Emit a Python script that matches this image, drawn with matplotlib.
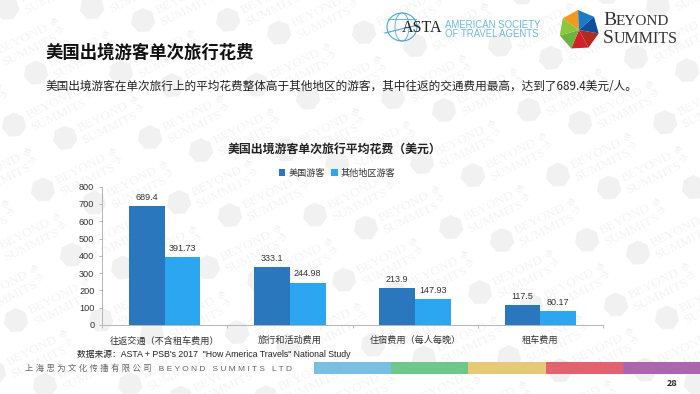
import numpy as np
import matplotlib
matplotlib.use('Agg')
import matplotlib.pyplot as plt
from matplotlib.patches import Rectangle, Polygon, Ellipse

plt.rcParams['font.family'] = ['Noto Sans CJK SC', 'DejaVu Sans']
LATIN_CJK = ['Liberation Sans', 'Noto Sans CJK SC']

categories = ['往返交通（不含租车费用）', '旅行和活动费用', '住宿费用（每人每晚）', '租车费用']
us_values = [689.4, 333.1, 213.9, 117.5]
other_values = [391.73, 244.98, 147.93, 80.17]
us_labels = ['689.4', '333.1', '213.9', '117.5']
other_labels = ['391.73', '244.98', '147.93', '80.17']
y_ticks = [0, 100, 200, 300, 400, 500, 600, 700, 800]
series_names = ['美国游客', '其他地区游客']

W, H = 700, 394
fig = plt.figure(figsize=(7, 3.94), dpi=100, facecolor='white')

bg = fig.add_axes([0, 0, 1, 1], zorder=0)
bg.set_xlim(0, W); bg.set_ylim(H, 0); bg.axis('off')


def hexagon(cx, cy, r):
    a = np.deg2rad(np.arange(7) * 360 / 7 + 10)
    return np.c_[cx + r * np.cos(a), cy + r * np.sin(a)]


def watermark(x, y):
    bg.add_patch(Polygon(hexagon(x, y, 12.5), color='#f1f1f1', lw=0, zorder=1))
    bg.text(x + 13, y - 9, 'BEYOND', fontsize=9.5, family='Liberation Serif', color='#f4f4f4',
            rotation=26, rotation_mode='anchor', ha='left', va='center', zorder=1)
    bg.text(x + 18, y + 3, 'SUMMITS', fontsize=9.5, family='Liberation Serif', color='#f4f4f4',
            rotation=26, rotation_mode='anchor', ha='left', va='center', zorder=1)
    bg.text(x + 68, y - 38, '思', fontsize=5.5, color='#f1f1f1', ha='center', va='center',
            rotation=-20, zorder=1)
    bg.text(x + 73, y - 30, '为', fontsize=5.5, color='#f1f1f1', ha='center', va='center',
            rotation=-20, zorder=1)


for m in range(-3, 6):
    for n in range(-2, 7):
        ax0 = 14 + n * 136 + m * 29
        ay0 = 125 + n * 12.5 + m * 65
        for dx, dy in [(0, 0), (51, 13)]:
            px, py = ax0 + dx, ay0 + dy
            if -90 < px < W + 15 and -15 < py < H + 50:
                watermark(px, py)

# header
bg.text(46, 53, '美国出境游客单次旅行花费', fontsize=12.5, fontweight='bold', color='#111111', va='center', zorder=4)
bg.text(46, 86, '美国出境游客在单次旅行上的平均花费整体高于其他地区的游客，其中往返的交通费用最高，达到了689.4美元/人。',
        fontsize=8.4, color='#222222', va='center', zorder=4)
bg.text(335, 149, '美国出境游客单次旅行平均花费（美元）', fontsize=8.6, fontweight='bold',
        color='#222222', ha='center', va='center', zorder=4)

# ASTA logo
bg.add_patch(Ellipse((402, 27), 30, 28, fill=False, ec='#4aa8d8', lw=0.8, zorder=2))
bg.add_patch(Ellipse((402, 27), 14, 28, fill=False, ec='#4aa8d8', lw=0.6, zorder=2))
bg.plot([385, 418], [33, 25], color='#4aa8d8', lw=0.8, zorder=2)
bg.plot([388, 416], [19, 19], color='#4aa8d8', lw=0.6, zorder=2)
bg.text(422, 28, 'ASTA', fontsize=11.5, family='Liberation Serif', color='#222222', ha='center', va='center', zorder=3)
bg.text(445, 24.5, 'AMERICAN SOCIETY', fontsize=6.9, color='#6db9de', family='Liberation Sans', va='center', zorder=3)
bg.text(445, 34, 'OF TRAVEL AGENTS', fontsize=6.9, color='#6db9de', family='Liberation Sans', va='center', zorder=3)

# Beyond Summits logo
cx, cy = 579, 30
pts = hexagon(cx, cy, 20)
cols = ['#b52a20', '#d3202a', '#6cb33f', '#8cc63f', '#f39a1e', '#1a7cc4', '#0d4f9e']
for i in range(7):
    bg.add_patch(Polygon([[cx, cy], pts[i], pts[(i + 1) % 7]], color=cols[i], lw=0, zorder=3))
bg.text(603, 25, 'B', fontsize=14, family='Liberation Serif', color='#333333', va='baseline', zorder=3)
bg.text(616, 25, 'EYOND', fontsize=11, family='Liberation Serif', color='#333333', va='baseline', zorder=3)
bg.text(603, 43, 'S', fontsize=14, family='Liberation Serif', color='#333333', va='baseline', zorder=3)
bg.text(614, 43, 'UMMITS', fontsize=11.5, family='Liberation Serif', color='#333333', va='baseline', zorder=3)

# footer
bg.text(77, 354, '数据来源：ASTA + PSB\'s 2017  "How America Travels" National Study', fontsize=6.3,
        family=LATIN_CJK, color='#222222', va='center', zorder=4)
bg.text(25, 369, '上 海 思 为 文 化 传 播 有 限 公 司   B E Y O N D   S U M M I T S   L T D', fontsize=6.0,
        family=LATIN_CJK, color='#666666', va='center', zorder=4)
edges = [314, 391, 468, 545.5, 623, 700]
band = ['#79bfe2', '#70c78a', '#e7c978', '#e2636e', '#ab66b0']
for a, b, c in zip(edges[:-1], edges[1:], band):
    bg.add_patch(Rectangle((a, 362), b - a, 12, color=c, lw=0, zorder=2))
bg.text(672, 384, '28', fontsize=6.5, fontweight='bold', color='#222222', ha='center', va='center', zorder=4)

# chart
L, R, T, B = 102, 603, 186.7, 325
ax = fig.add_axes([L / W, 1 - B / H, (R - L) / W, (B - T) / H], zorder=2)
ax.patch.set_alpha(0)
x = np.arange(len(categories))
w = 0.285
b1 = ax.bar(x - w / 2, us_values, w, color='#2a77bd', label=series_names[0])
b2 = ax.bar(x + w / 2, other_values, w, color='#2da6f2', label=series_names[1])
ax.bar_label(b1, labels=us_labels, padding=3, fontsize=6.5, color='#333333', family='Liberation Sans')
ax.bar_label(b2, labels=other_labels, padding=3, fontsize=6.5, color='#333333', family='Liberation Sans')
ax.set_xlim(-0.5, 3.5)
ax.set_ylim(0, 800)
ax.set_yticks(y_ticks)
ax.set_xticks(x, categories)
ax.set_xticks(np.arange(-0.5, 4), minor=True)
ax.tick_params(axis='x', which='major', length=0, labelsize=6.6, pad=8, colors='#333333')
ax.tick_params(axis='x', which='minor', length=2.5, color='#b5b5b5', width=0.7)
ax.tick_params(axis='y', length=2.5, color='#b5b5b5', width=0.7, labelsize=6.6, labelcolor='#333333', pad=3)
for lab in ax.get_yticklabels():
    lab.set_family('Liberation Sans')
for s in ['top', 'right']:
    ax.spines[s].set_visible(False)
for s in ['left', 'bottom']:
    ax.spines[s].set_color('#b5b5b5')
    ax.spines[s].set_linewidth(0.7)
fig.legend(handles=[b1, b2], labels=series_names, loc='center', bbox_to_anchor=(337 / W, 1 - 173 / H),
           ncol=2, frameon=False, fontsize=6.6, handlelength=0.7, handleheight=0.7, handletextpad=0.35,
           columnspacing=0.7, labelcolor='#333333')
fig.savefig('out.png', dpi=100)
